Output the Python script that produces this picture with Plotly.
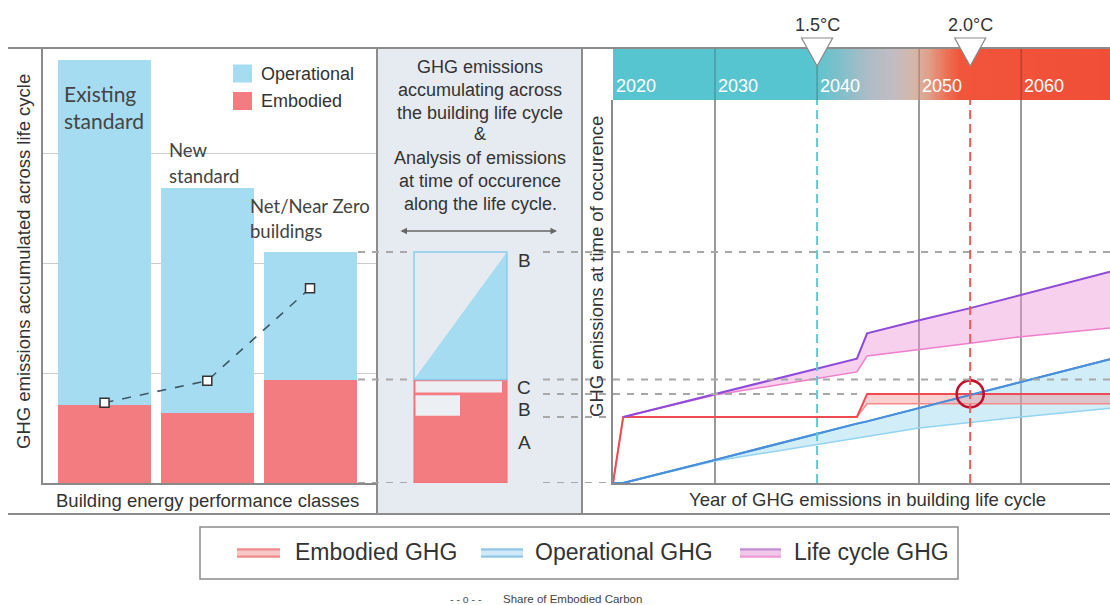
import plotly.graph_objects as go
import numpy as np

W, H = 1110, 605
def px(x): return x / W
def py(y): return 1 - y / H

# ---------------- DATA ----------------
# Left panel: accumulated life-cycle emissions per building class
class_pos = [0, 1, 2]
class_labels = [["Existing", "standard"], ["New", "standard"], ["Net/Near Zero", "buildings"]]
embodied = [0.71, 0.64, 0.94]
operational = [3.14, 2.04, 1.16]
share_embodied = [0.73, 0.93, 1.77]

# Middle panel: life-cycle stages (accumulated)
stage_names = ["A", "B", "C"]
stage_tops = [0.60, 0.81, 0.94]
stage_total = 2.10

# Right panel: emissions at time of occurrence
years = [2020, 2021, 2030, 2040, 2043.9, 2044.9, 2050, 2055, 2060, 2068.7]
emb_upper = [0, 0.60, 0.60, 0.60, 0.60, 0.81, 0.81, 0.81, 0.81, 0.81]
emb_lower = [0, 0.60, 0.60, 0.60, 0.60, 0.72, 0.72, 0.72, 0.72, 0.72]
op_upper = [0, 0, 0.21, 0.45, 0.54, 0.56, 0.68, 0.80, 0.92, 1.125]
op_lower = [0, 0, 0.20, 0.35, 0.41, 0.43, 0.50, 0.55, 0.60, 0.68]
lc_years = [2021, 2030, 2040, 2043.9, 2044.9, 2050, 2055, 2060, 2068.7]
lc_upper = [0.60, 0.81, 1.04, 1.13, 1.36, 1.48, 1.59, 1.71, 1.92]
lc_lower = [0.60, 0.80, 0.95, 1.01, 1.155, 1.21, 1.27, 1.33, 1.41]

decades = [2020, 2030, 2040, 2050, 2060]
grid_years = [2030, 2050, 2060]
thresholds = [("1.5°C", 2040, "#5ccbd2"), ("2.0°C", 2055, "#f25656")]
crossing_year, crossing_val = 2055, 0.81
band_stops = [(2020, "#57c5d0"), (2039.5, "#57c5d0"), (2042, "#7cc0cb"), (2045, "#adbcc7"),
              (2047.5, "#c2bcc3"), (2049.5, "#d6b7a8"), (2051, "#e09f88"), (2052.5, "#ec7459"),
              (2054, "#f1553b"), (2068.7, "#f14e37")]

XMIN, XMAX = 2020, 2068.7
UNIT = 110.0  # px per unit
Y0 = 483

FONT = "Liberation Sans, Arial, sans-serif"
TXT = "#333333"
RED = "#f37c80"
BLUE = "#a6dcf2"

fig = go.Figure()

# ---------- left panel bars ----------
fig.add_trace(go.Bar(x=class_pos, y=embodied, width=0.905, marker=dict(color=RED, line_width=0),
                     xaxis="x", yaxis="y", hoverinfo="skip"))
fig.add_trace(go.Bar(x=class_pos, y=operational, width=0.905, marker=dict(color=BLUE, line_width=0),
                     xaxis="x", yaxis="y", hoverinfo="skip"))
fig.add_trace(go.Scatter(x=class_pos, y=share_embodied, mode="lines+markers",
                         line=dict(color="#3d5866", width=1.6, dash="dash"),
                         marker=dict(symbol="square", size=9, color="white",
                                     line=dict(color="#333", width=1.5)),
                         xaxis="x", yaxis="y", hoverinfo="skip"))

# ---------- band heatmap ----------
band_x = np.arange(2020, 2069, 0.2)
span = XMAX - XMIN
cscale = [[(y - XMIN) / span, c] for y, c in band_stops]
cscale[-1][0] = 1.0
fig.add_trace(go.Heatmap(x=band_x, y=[0.5], z=[band_x], colorscale=cscale, zmin=XMIN, zmax=XMAX,
                         showscale=False, xaxis="x4", yaxis="y4", hoverinfo="skip"))

# ---------- right panel series ----------
fig.add_trace(go.Scatter(x=years, y=op_lower, mode="lines", line=dict(color="#93d4f2", width=1.5),
                         xaxis="x3", yaxis="y3", hoverinfo="skip"))
fig.add_trace(go.Scatter(x=years, y=op_upper, mode="lines", line=dict(color="#4a8fdc", width=2),
                         fill="tonexty", fillcolor="rgba(150,215,240,0.45)",
                         xaxis="x3", yaxis="y3", hoverinfo="skip"))
fig.add_trace(go.Scatter(x=years, y=emb_lower, mode="lines", line=dict(color="#f58a8a", width=1.5),
                         xaxis="x3", yaxis="y3", hoverinfo="skip"))
fig.add_trace(go.Scatter(x=years, y=emb_upper, mode="lines", line=dict(color="#f04b55", width=2),
                         fill="tonexty", fillcolor="rgba(245,120,120,0.35)",
                         xaxis="x3", yaxis="y3", hoverinfo="skip"))
fig.add_trace(go.Scatter(x=lc_years, y=lc_lower, mode="lines", line=dict(color="#ee7fcc", width=1.5),
                         xaxis="x3", yaxis="y3", hoverinfo="skip"))
fig.add_trace(go.Scatter(x=lc_years, y=lc_upper, mode="lines", line=dict(color="#8e4ad8", width=2),
                         fill="tonexty", fillcolor="rgba(235,150,215,0.45)",
                         xaxis="x3", yaxis="y3", hoverinfo="skip"))
fig.add_trace(go.Scatter(x=years, y=op_upper, mode="lines", line=dict(color="#4a8fdc", width=2),
                         xaxis="x3", yaxis="y3", hoverinfo="skip"))
fig.add_trace(go.Scatter(x=[crossing_year], y=[crossing_val], mode="markers",
                         marker=dict(symbol="circle-open", size=27, color="#c2102f",
                                     line=dict(width=2.6)),
                         xaxis="x3", yaxis="y3", hoverinfo="skip"))

shapes = []
ann = []

def text(t, x, y, size, color=TXT, family=FONT, xa="center", ya="middle", **kw):
    d = dict(text=t, x=x, y=y, xref=kw.pop("xref", "paper"), yref=kw.pop("yref", "paper"),
             showarrow=False, xanchor=xa, yanchor=ya,
             font=dict(size=size, color=color, family=family))
    d.update(kw)
    ann.append(d)

# panel background & frame
shapes.append(dict(type="rect", xref="paper", yref="paper", x0=px(377), x1=px(582),
                   y0=py(514), y1=py(48), fillcolor="#e6eaf1", line_width=0, layer="below"))
FR = dict(color="#8c8c8c", width=2)
for (x0, y0, x1, y1) in [(8, 48, 1110, 48), (8, 514, 1110, 514), (377, 48, 377, 514), (582, 48, 582, 514)]:
    shapes.append(dict(type="line", xref="paper", yref="paper", x0=px(x0), x1=px(x1),
                       y0=py(y0), y1=py(y1), line=FR))

# middle diagram
xl, xr, xb, xc = px(414), px(507), px(460), px(502)
shapes.append(dict(type="rect", xref="paper", yref="y", x0=xl, x1=xr, y0=0, y1=stage_tops[2],
                   fillcolor=RED, line=dict(color="#f26a70", width=1)))
shapes.append(dict(type="rect", xref="paper", yref="y", x0=xl + px(1.5), x1=xc,
                   y0=stage_tops[1] + 0.012, y1=stage_tops[2] - 0.015,
                   fillcolor="#eceff4", line_width=0))
shapes.append(dict(type="rect", xref="paper", yref="y", x0=xl + px(1.5), x1=xb,
                   y0=stage_tops[0] + 0.012, y1=stage_tops[1] - 0.012,
                   fillcolor="#eceff4", line_width=0))
shapes.append(dict(type="path", xref="paper", yref="y",
                   path=f"M {xl},{stage_tops[2]} L {xr},{stage_total} L {xr},{stage_tops[2]} Z",
                   fillcolor=BLUE, line_width=0))
shapes.append(dict(type="rect", xref="paper", yref="y", x0=xl, x1=xr, y0=stage_tops[2], y1=stage_total,
                   line=dict(color="#8ccbee", width=1.5)))

# dashed reference levels
DL = dict(color="#a8a8a8", width=2, dash="7px,7px")
dash_specs = [(stage_total, [(358, 412), (543, 1110)]),
              (stage_tops[2], [(358, 412), (543, 1110)]),
              (stage_tops[1], [(543, 857)]),
              (stage_tops[0], [(543, 613)]),
              (0, [(358, 412), (543, 613)])]
for val, segs in dash_specs:
    for a, b in segs:
        shapes.append(dict(type="line", xref="paper", yref="y", x0=px(a), x1=px(b), y0=val, y1=val, line=DL))

# band decade lines
for yr in decades[1:]:
    shapes.append(dict(type="line", xref="x3", yref="paper", x0=yr, x1=yr, y0=py(100), y1=py(49),
                       line=dict(color="rgba(0,0,0,0.22)", width=1.5)))
# threshold lines and triangles
for lab, yr, col in thresholds:
    shapes.append(dict(type="line", xref="x3", yref="y3", x0=yr, x1=yr, y0=0, y1=(Y0 - 100) / UNIT,
                       line=dict(color=col, width=2, dash="9px,5px")))
    hw = 15.5 / 10.2
    shapes.append(dict(type="path", xref="x3", yref="paper",
                       path=f"M {yr-hw},{py(38)} L {yr+hw},{py(38)} L {yr},{py(66)} Z",
                       fillcolor="white", line=dict(color="#8a8a8a", width=1.2)))
    text(lab, yr, py(25), 18, xref="x3")

for yr in decades:
    text(str(yr), yr, py(86), 18, color="white", xa="left", xref="x3", xshift=1)

# left legend
for (y0, y1, col, lab) in [(64.5, 82.5, BLUE, "Operational"), (92, 110, RED, "Embodied")]:
    shapes.append(dict(type="rect", xref="paper", yref="paper", x0=px(233), x1=px(252),
                       y0=py(y1), y1=py(y0), fillcolor=col, line_width=0))
    text(lab, px(259), py((y0 + y1) / 2), 18, xa="left")

# class labels
lab_specs = [(62, [93, 120], 21), (167, [150, 175.5], 18.5), (248, [206, 231], 18.5)]
for (x, ys, fs), lines in zip(lab_specs, class_labels):
    for yy, t in zip(ys, lines):
        text(t, px(x), py(yy), fs, color="#444", family="Lato, Open Sans, sans-serif", xa="left")

# axis titles
text("GHG emissions accumulated across life cycle", px(23), py(262), 18.5, textangle=-90)
text("Building energy performance classes", px(207), py(500), 18.5)
text("GHG emissions at time of occurence", px(596), py(267), 18.5, textangle=-90)
text("Year of GHG emissions in building life cycle", px(867), py(499), 18.5)

# middle text
mid_lines = ["GHG emissions", "accumulating across", "the building life cycle", "&",
             "Analysis of emissions", "at time of occurence", "along the life cycle."]
mid_y = [67, 90, 113, 134, 158, 181, 204]
for t, yy in zip(mid_lines, mid_y):
    text(t, px(480), py(yy), 18)
ann.append(dict(text="", x=px(557), y=py(231), xref="paper", yref="paper", ax=-158, ay=0,
                showarrow=True, arrowside="end+start", arrowhead=2, arrowsize=1,
                arrowwidth=1.3, arrowcolor="#666"))

# stage labels
for t, yy in zip(["B", "C", "B", "A"], [260, 387, 409, 442]):
    text(t, px(524), py(yy), 19)

# bottom legend
shapes.append(dict(type="rect", xref="paper", yref="paper", x0=px(200), x1=px(958),
                   y0=py(579), y1=py(527), line=dict(color="#8c8c8c", width=1.5)))
leg = [(237, 280, "#f8c8c8", "#f08a8a", "#f08a8a", 293, "Embodied GHG"),
       (481, 523, "#cfe9f6", "#8ec6e8", "#8ec6e8", 533, "Operational GHG"),
       (740, 781, "#f2c8ea", "#c08ad8", "#ee9ad8", 792, "Life cycle GHG")]
for x0, x1, fc, lt, lb, tx, t in leg:
    shapes.append(dict(type="rect", xref="paper", yref="paper", x0=px(x0), x1=px(x1),
                       y0=py(558), y1=py(548), fillcolor=fc, line_width=0))
    shapes.append(dict(type="line", xref="paper", yref="paper", x0=px(x0), x1=px(x1),
                       y0=py(549.5), y1=py(549.5), line=dict(color=lt, width=2)))
    shapes.append(dict(type="line", xref="paper", yref="paper", x0=px(x0), x1=px(x1),
                       y0=py(556.5), y1=py(556.5), line=dict(color=lb, width=2)))
    text(t, px(tx), py(552), 23, xa="left")
text("- - o - -", px(466), py(599), 10.5, color="#555")
text("Share of Embodied Carbon", px(501), py(599), 11.5, color="#444", xa="left")

AX = "#8a8a8a"
fig.update_layout(
    width=W, height=H, margin=dict(l=0, r=0, t=0, b=0),
    paper_bgcolor="white", plot_bgcolor="rgba(0,0,0,0)",
    barmode="stack", showlegend=False,
    shapes=shapes, annotations=ann,
    xaxis=dict(domain=[px(43), px(377)], range=[-0.599, 2.652], showgrid=False, zeroline=False,
               showticklabels=False, showline=True, linecolor=AX, linewidth=1.5, fixedrange=True),
    yaxis=dict(domain=[py(483), py(48)], range=[0, (Y0 - 48) / UNIT], tickvals=[1, 2, 3],
               showgrid=True, gridcolor="#cccccc", gridwidth=1.2, zeroline=False,
               showticklabels=False, showline=True, linecolor=AX, linewidth=1.5, ticks=""),
    xaxis3=dict(domain=[px(613), 1], range=[XMIN, XMAX], tickvals=grid_years, showgrid=True,
                gridcolor="#9a9a9a", gridwidth=1.5, zeroline=False, showticklabels=False,
                showline=True, linecolor=AX, linewidth=1.5, anchor="y3", ticks=""),
    yaxis3=dict(domain=[py(483), py(100)], range=[0, (Y0 - 100) / UNIT], showgrid=False,
                zeroline=False, showticklabels=False, showline=True, linecolor=AX, linewidth=1.5,
                anchor="x3", ticks=""),
    xaxis4=dict(domain=[px(613), 1], range=[XMIN, XMAX], showgrid=False, zeroline=False,
                showticklabels=False, anchor="y4"),
    yaxis4=dict(domain=[py(100), py(49)], range=[0, 1], showgrid=False, zeroline=False,
                showticklabels=False, anchor="x4"),
)

fig.write_html("out.html", config={"displayModeBar": False},
               post_script="document.body.style.margin='0';document.body.style.overflow='hidden';")
